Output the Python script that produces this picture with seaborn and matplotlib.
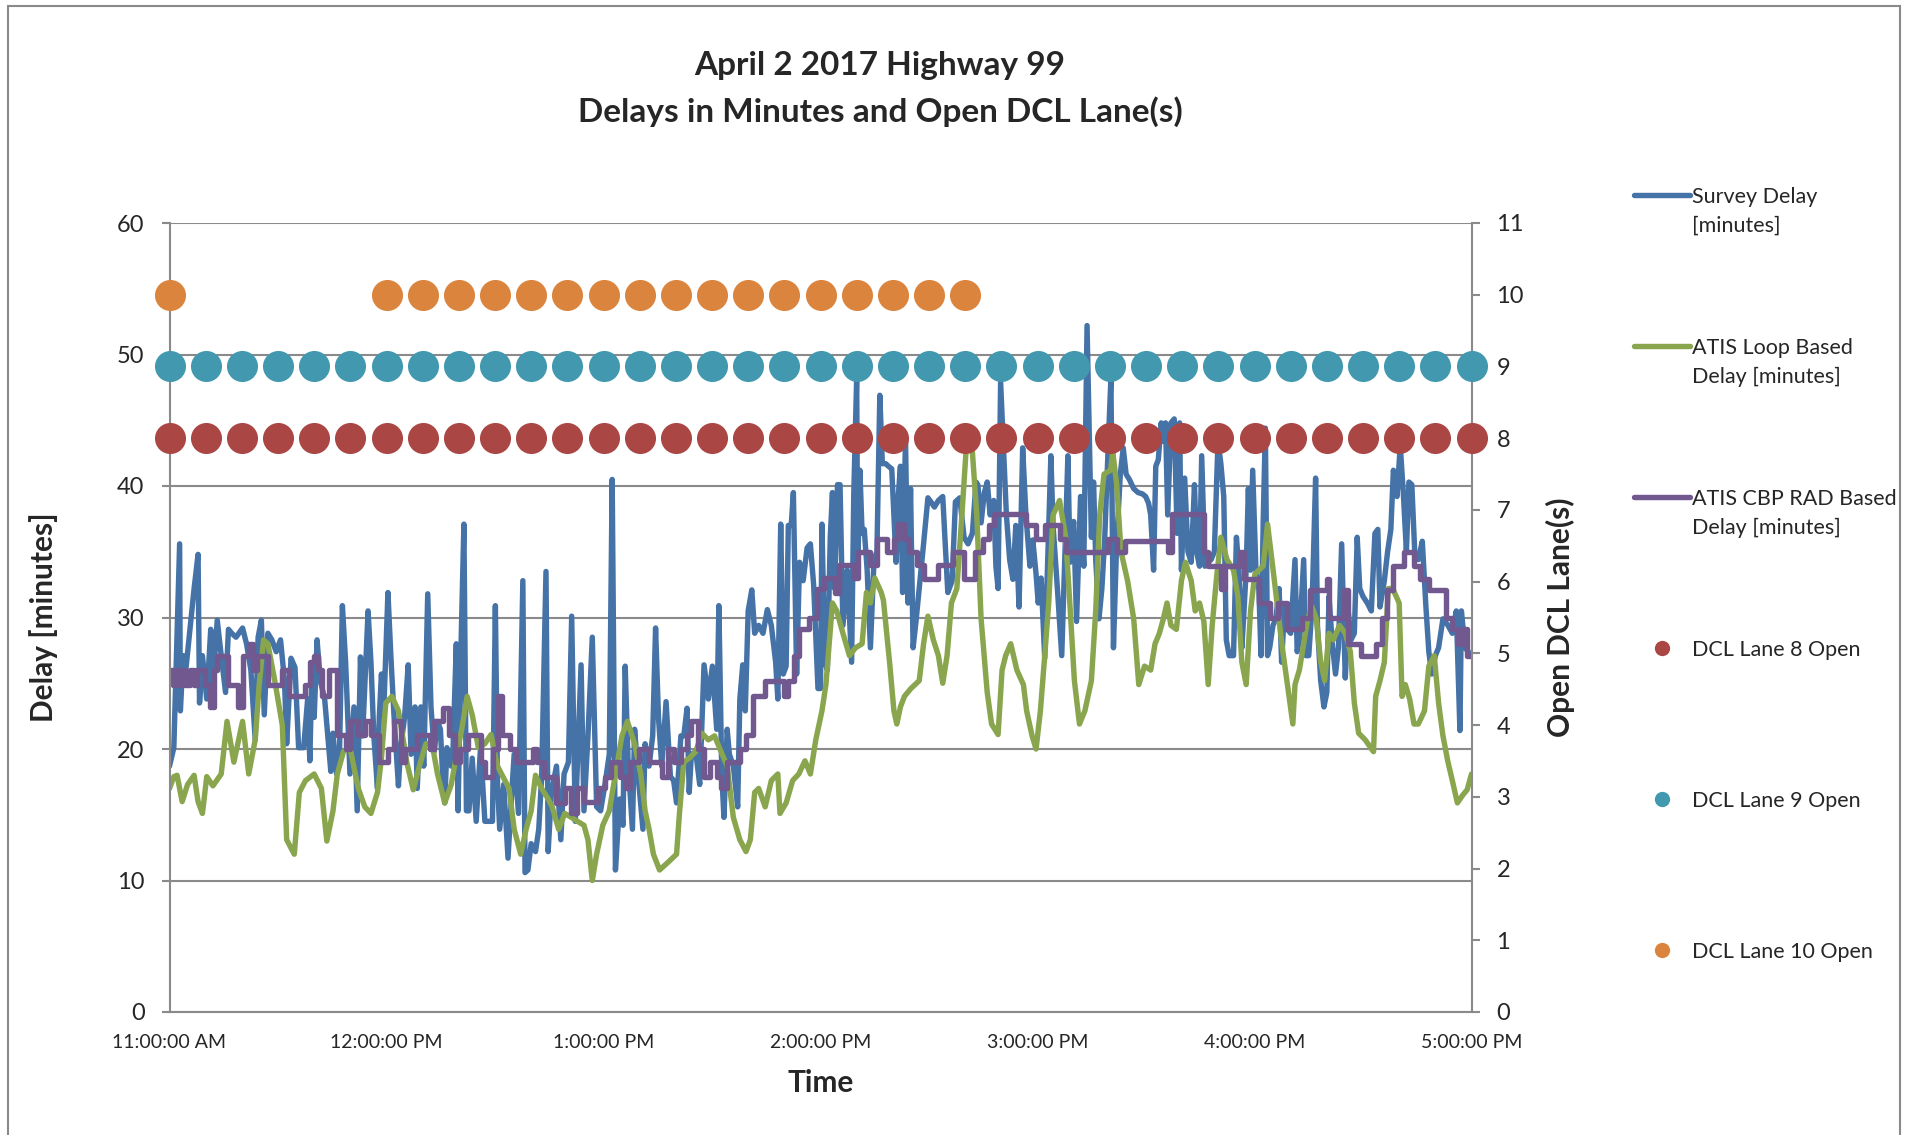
import matplotlib
matplotlib.use("Agg")
import matplotlib.pyplot as plt
import seaborn as sns
from matplotlib.lines import Line2D
from matplotlib.patches import Rectangle

# minutes after 11:00 AM and delay in minutes
survey_min = [0.0, 1.2, 2.8, 3.0, 3.8, 4.4, 6.8, 7.9, 8.3, 9.1, 10.3, 11.4, 12.0, 13.2, 14.3, 15.5, 16.3, 17.2,
              18.4, 20.2, 21.3, 22.5, 23.7, 24.5, 25.4, 26.2, 27.2, 28.3, 29.5, 30.7, 31.8, 32.4, 33.6, 34.7,
              35.7, 37.1, 38.2, 38.8, 39.4, 40.0, 40.8, 41.7, 42.9, 44.6, 45.2, 46.2, 47.0, 47.8, 48.7, 49.9,
              51.0, 51.9, 52.8, 53.4, 54.9, 55.7, 56.5, 57.5, 58.0, 58.6, 59.2, 60.4, 61.2, 62.1, 63.3, 63.9,
              65.0, 66.0, 66.8, 67.9, 68.5, 69.5, 70.3, 71.4, 72.3, 73.2, 74.1, 74.9, 75.5, 76.1, 76.7, 77.9,
              78.4, 79.3, 79.8, 80.5, 81.4, 82.1, 82.8, 83.7, 84.8, 86.0, 87.2, 88.3, 89.3, 90.1, 90.7, 91.3,
              92.4, 93.6, 94.4, 95.3, 96.5, 97.7, 98.3, 99.1, 100.0, 101.2, 102.1, 102.9, 104.1, 104.7, 105.6,
              107.0, 108.2, 109.1, 110.3, 111.2, 112.2, 112.8, 113.8, 114.6, 115.7, 116.9, 118.1, 119.2, 120.4,
              121.6, 122.4, 123.3, 124.5, 125.4, 126.0, 126.8, 128.0, 128.6, 129.7, 130.9, 131.5, 132.6, 133.6,
              134.4, 135.2, 136.1, 137.3, 138.5, 139.4, 140.2, 141.4, 142.2, 143.1, 143.7, 144.3, 145.5, 146.6,
              147.8, 149.0, 150.1, 151.3, 151.9, 152.7, 153.3, 154.2, 154.8, 155.9, 157.1, 157.7, 158.5, 159.2,
              160.0, 161.0, 161.8, 162.9, 164.1, 165.3, 166.4, 167.6, 168.2, 169.0, 169.7, 170.5, 171.1, 171.9,
              172.5, 173.4, 174.2, 175.2, 176.3, 177.2, 178.1, 179.3, 180.0, 180.4, 181.2, 181.9, 182.7, 183.3,
              183.9, 184.7, 185.4, 186.2, 187.4, 188.6, 189.2, 190.0, 190.3, 190.9, 191.5, 192.1, 192.9, 193.8,
              194.8, 195.6, 196.4, 197.1, 198.0, 198.8, 199.7, 200.3, 200.9, 201.5, 202.1, 202.7, 203.5, 204.2,
              204.9, 205.6, 206.4, 207.3, 208.5, 209.7, 210.5, 211.5, 212.6, 213.8, 214.4, 215.2, 216.4, 217.3,
              218.5, 219.7, 220.8, 222.0, 223.0, 223.5, 224.4, 225.3, 226.1, 226.9, 227.9, 228.5, 229.1, 229.8,
              230.5, 231.4, 232.3, 233.2, 234.0, 234.9, 235.9, 236.8, 237.9, 238.7, 239.6, 240.2, 241.0, 242.0,
              243.1, 243.7, 244.3, 245.5, 246.7, 247.6, 248.4, 249.0, 250.0, 250.8, 251.9, 252.8, 253.7, 254.9,
              255.5, 256.1, 257.0, 257.8, 258.6, 259.6, 260.3, 261.0, 261.9, 262.9, 263.7, 264.5, 265.4, 266.6,
              267.8, 269.0, 269.9, 270.7, 271.3, 272.1, 272.7, 273.4, 274.2, 274.8, 275.4, 276.0, 276.9, 277.8,
              278.6, 279.3, 279.8, 280.7, 281.6, 282.5, 283.4, 284.0, 284.8, 285.4, 286.3, 287.2, 288.0, 288.9,
              289.9, 290.7, 291.5, 292.2, 293.0, 294.2, 295.0, 295.7, 296.5, 297.1, 297.7, 298.3, 298.9, 299.5,
              300.4, 301.2, 301.8, 302.4, 303.0, 303.6, 304.2, 305.1, 305.9, 306.8, 307.5, 308.3, 309.1, 310.0,
              311.2, 311.8, 312.4, 313.6, 314.2, 315.0, 315.9, 316.9, 317.4, 318.3, 319.2, 320.0, 320.6, 321.5,
              322.4, 323.2, 324.1, 325.1, 325.9, 326.7, 327.6, 328.4, 329.1, 330.0, 331.2, 332.3, 333.3, 334.1,
              334.7, 335.9, 336.8, 337.7, 338.4, 339.4, 340.3, 341.2, 342.0, 342.7, 343.5, 344.3, 345.3, 346.4,
              347.4, 348.2, 349.0, 350.0, 350.9, 352.1, 353.5, 354.7, 355.8, 356.8, 357.2, 358.2, 360.0]
survey_delay = [18.7, 20.1, 35.6, 22.9, 27.1, 25.7, 32.2, 34.8, 23.5, 27.1, 23.8, 29.1, 24.9, 29.8, 27.1, 24.3,
                29.1, 28.8, 28.5, 29.2, 28.0, 26.0, 20.7, 28.5, 29.8, 22.6, 28.8, 28.3, 27.4, 28.3, 25.2, 20.4,
                26.9, 26.2, 20.1, 20.1, 23.8, 19.1, 26.4, 22.4, 28.3, 25.2, 23.8, 18.3, 21.2, 18.1, 19.6, 30.9,
                26.6, 18.1, 23.2, 15.3, 27.0, 21.0, 30.5, 26.6, 21.0, 17.0, 22.4, 25.7, 22.6, 31.9, 27.1, 22.4,
                17.2, 20.1, 22.4, 26.4, 19.6, 23.2, 17.0, 23.2, 18.7, 31.8, 23.2, 19.8, 22.1, 21.5, 18.1, 15.9,
                20.1, 18.7, 20.1, 28.0, 15.3, 26.6, 37.1, 15.3, 15.3, 19.3, 14.5, 20.1, 14.5, 14.5, 14.5, 30.9,
                17.3, 13.9, 17.3, 11.7, 15.6, 19.6, 15.1, 32.8, 10.6, 10.8, 12.8, 12.2, 13.9, 17.9, 33.5, 12.2,
                16.7, 18.7, 13.1, 18.1, 19.0, 30.1, 14.5, 19.0, 26.4, 15.3, 21.0, 28.5, 15.6, 15.3, 17.3, 19.6,
                40.5, 10.8, 16.2, 14.2, 26.3, 19.0, 13.9, 21.5, 17.6, 13.9, 20.4, 18.7, 21.0, 29.2, 22.4, 18.7,
                23.6, 17.9, 17.6, 15.9, 21.0, 21.0, 23.1, 16.7, 19.6, 19.8, 17.3, 26.4, 23.8, 26.3, 21.5, 30.9,
                18.1, 14.8, 21.5, 19.6, 18.7, 15.6, 23.8, 26.4, 22.9, 30.5, 32.1, 28.8, 29.4, 28.8, 30.6, 29.4,
                26.6, 23.8, 37.1, 25.7, 26.3, 37.0, 37.0, 39.5, 25.7, 34.2, 32.8, 35.3, 35.6, 32.5, 24.6, 24.6,
                37.1, 26.6, 26.0, 36.1, 39.5, 32.2, 40.1, 40.1, 29.4, 33.6, 26.6, 39.4, 48.2, 33.6, 41.2, 36.4,
                36.7, 33.6, 27.7, 34.4, 35.0, 46.9, 41.7, 41.7, 41.5, 41.3, 37.8, 34.2, 39.2, 41.5, 31.9, 43.7,
                31.1, 39.8, 27.7, 29.7, 32.2, 35.6, 39.1, 38.8, 38.4, 38.9, 39.2, 36.1, 31.9, 32.8, 38.8, 39.1,
                36.1, 35.6, 36.4, 40.3, 40.1, 37.2, 39.5, 40.3, 37.8, 38.9, 33.9, 32.2, 47.9, 43.4, 37.8, 34.4,
                32.9, 37.0, 30.8, 42.9, 37.8, 33.9, 35.9, 33.3, 31.1, 33.0, 26.9, 37.0, 42.3, 37.0, 32.2, 27.1,
                35.0, 42.3, 34.2, 37.3, 29.7, 39.2, 33.9, 52.2, 36.1, 40.3, 34.4, 29.9, 32.2, 36.1, 43.4, 48.2,
                27.7, 35.8, 40.9, 42.9, 40.9, 40.5, 39.8, 39.5, 39.4, 39.2, 38.7, 37.8, 33.6, 41.5, 42.0, 44.8,
                43.4, 44.8, 37.8, 44.8, 45.1, 36.4, 44.8, 33.6, 40.6, 35.0, 34.2, 40.1, 35.0, 33.9, 42.3, 33.9,
                34.2, 34.4, 35.0, 43.4, 41.7, 39.2, 28.3, 27.1, 27.1, 36.1, 33.6, 27.7, 30.5, 33.6, 39.8, 33.6,
                41.2, 33.6, 32.2, 27.1, 37.2, 44.4, 27.1, 27.7, 29.4, 29.9, 32.2, 26.6, 30.8, 29.1, 28.8, 34.4,
                27.4, 28.3, 34.4, 27.1, 27.1, 30.8, 40.6, 29.4, 25.2, 23.2, 24.3, 31.6, 28.0, 25.7, 27.7, 35.6,
                25.4, 30.5, 28.3, 28.8, 36.1, 32.2, 31.6, 31.1, 30.5, 36.4, 36.7, 30.8, 32.8, 35.0, 36.7, 41.2,
                39.2, 43.1, 39.2, 35.0, 40.3, 40.1, 35.0, 34.4, 35.8, 30.8, 27.4, 25.7, 27.1, 27.7, 29.9, 29.4,
                28.8, 30.5, 21.4, 30.5, 27.7, 27.1]

loop_min = [0.0, 1.2, 2.1, 3.5, 5.0, 6.8, 7.9, 9.1, 10.3, 12.0, 14.3, 15.9, 17.8, 20.2, 21.9, 23.7, 24.8, 26.0,
            27.2, 29.1, 31.2, 32.4, 34.5, 35.9, 37.6, 40.0, 42.0, 43.5, 45.2, 46.4, 48.1, 49.9, 52.2, 54.0,
            55.7, 57.5, 58.6, 59.8, 61.5, 63.3, 64.8, 65.6, 67.4, 69.1, 70.9, 72.6, 74.1, 76.1, 77.9, 79.0,
            80.8, 82.3, 83.7, 85.4, 87.2, 88.9, 90.7, 91.8, 93.9, 95.3, 97.1, 98.6, 100.0, 101.2, 102.9, 104.7,
            105.8, 107.6, 109.3, 111.1, 112.8, 114.6, 115.7, 116.9, 118.1, 119.8, 121.6, 123.3, 125.1, 126.6,
            128.6, 130.3, 131.5, 132.6, 133.8, 135.5, 137.9, 140.2, 141.0, 142.2, 143.7, 145.5, 147.2, 149.0,
            150.7, 152.5, 154.2, 155.9, 157.7, 159.4, 160.6, 161.8, 162.9, 164.7, 166.4, 168.2, 168.8, 170.5,
            172.3, 174.0, 175.7, 177.2, 178.7, 180.4, 181.5, 183.3, 184.5, 186.2, 188.0, 189.7, 191.5, 192.7,
            193.8, 195.0, 196.8, 197.4, 199.1, 200.3, 201.1, 202.1, 203.2, 205.0, 207.3, 208.5, 209.7, 211.2,
            212.6, 213.8, 215.0, 216.2, 217.7, 219.1, 220.3, 222.0, 223.2, 224.4, 226.1, 227.3, 229.1, 230.2,
            231.2, 232.6, 234.3, 236.1, 237.0, 238.5, 239.6, 240.8, 242.0, 243.1, 244.3, 246.1, 247.8, 249.0,
            250.2, 251.6, 253.1, 254.9, 256.1, 257.2, 258.4, 260.2, 260.8, 261.9, 263.1, 264.9, 266.6, 268.0,
            269.6, 271.3, 272.5, 273.7, 274.8, 275.8, 276.9, 278.4, 279.8, 280.9, 282.5, 283.6, 284.8, 286.0,
            287.2, 288.3, 289.5, 290.7, 292.4, 294.2, 295.4, 296.5, 297.7, 298.9, 300.1, 301.2, 302.4, 303.6,
            304.8, 306.5, 307.7, 309.1, 310.6, 311.2, 312.4, 313.6, 314.7, 315.9, 317.1, 318.3, 319.4, 320.6,
            321.8, 323.5, 325.1, 326.5, 327.6, 328.8, 330.6, 332.9, 333.5, 334.7, 335.9, 337.0, 338.2, 340.0,
            340.8, 341.7, 342.9, 344.1, 345.3, 347.0, 348.2, 349.7, 350.9, 352.1, 353.5, 354.7, 356.1, 357.6,
            358.8, 360.0]
loop_delay = [17.0, 17.9, 18.0, 16.0, 17.3, 18.0, 16.0, 15.1, 17.9, 17.2, 18.1, 22.1, 19.0, 22.1, 18.1, 20.7,
              24.9, 28.3, 28.0, 25.2, 21.8, 13.1, 12.0, 16.7, 17.6, 18.1, 17.0, 13.0, 15.3, 18.1, 19.8, 20.1,
              17.0, 15.6, 15.1, 16.7, 19.3, 23.5, 24.0, 22.9, 20.4, 19.0, 16.9, 18.7, 20.4, 20.4, 18.1, 15.9,
              17.3, 19.0, 21.5, 24.0, 22.6, 20.1, 20.4, 21.1, 18.7, 18.1, 17.0, 13.9, 12.0, 13.9, 15.3, 18.0,
              17.0, 16.2, 15.6, 13.9, 15.1, 14.8, 14.5, 14.2, 13.1, 10.0, 12.0, 14.2, 15.3, 18.1, 21.0, 22.1,
              20.4, 18.1, 15.3, 13.9, 12.0, 10.8, 11.4, 12.0, 15.1, 19.0, 19.3, 19.8, 21.2, 20.7, 21.0, 19.8,
              18.7, 14.8, 13.1, 12.2, 13.1, 16.7, 17.0, 15.6, 17.6, 18.1, 15.1, 15.9, 17.6, 18.1, 19.1, 18.1,
              20.7, 22.9, 24.9, 31.1, 30.5, 28.8, 27.1, 27.7, 28.0, 31.9, 31.1, 33.0, 31.9, 31.3, 26.6, 22.9,
              21.9, 23.2, 24.0, 24.6, 25.2, 28.0, 30.1, 28.3, 27.1, 25.0, 27.1, 31.1, 32.2, 37.8, 42.9, 42.6,
              37.8, 29.9, 24.3, 21.9, 21.1, 26.0, 27.1, 28.0, 26.0, 24.9, 22.9, 21.0, 20.0, 22.9, 27.1, 31.1,
              37.8, 38.9, 36.1, 30.8, 25.2, 21.9, 22.9, 25.2, 30.5, 37.8, 40.9, 41.2, 42.6, 40.1, 35.0, 32.8,
              29.9, 24.9, 26.3, 26.0, 28.0, 28.8, 29.9, 31.1, 29.4, 29.1, 32.8, 34.2, 32.8, 30.5, 31.1, 29.7,
              24.9, 29.4, 33.0, 36.1, 34.4, 33.6, 31.6, 26.6, 24.9, 30.5, 33.3, 33.6, 33.9, 37.1, 34.4, 30.5,
              27.7, 24.9, 21.9, 24.9, 26.0, 28.0, 29.9, 30.8, 29.9, 26.6, 25.2, 28.8, 28.3, 29.4, 28.8, 27.4,
              23.5, 21.2, 20.7, 19.8, 24.0, 25.2, 26.6, 32.2, 32.2, 31.1, 24.0, 24.9, 23.8, 21.9, 21.9, 22.9,
              26.3, 27.1, 23.5, 21.0, 19.0, 17.6, 15.9, 16.5, 16.9, 18.1]

# ATIS CBP RAD: value holds from each time until the next one
rad_min = [0.0, 0.9, 2.1, 2.7, 3.8, 4.4, 5.6, 6.8, 7.7, 9.7, 11.2, 12.4, 13.2, 16.1, 19.0, 20.2, 21.9, 23.1,
           24.2, 27.2, 31.2, 33.0, 37.6, 38.8, 40.0, 41.1, 42.3, 44.1, 46.4, 48.7, 49.9, 52.2, 54.0, 55.7,
           58.0, 60.4, 62.1, 63.9, 65.0, 68.5, 72.0, 73.2, 75.5, 77.3, 79.0, 80.2, 82.5, 86.0, 87.2, 89.5,
           90.7, 91.8, 94.2, 95.9, 100.6, 101.7, 103.5, 107.0, 109.3, 111.1, 112.8, 114.6, 118.6, 120.4, 122.1,
           124.5, 126.2, 127.4, 129.7, 132.6, 136.1, 137.9, 139.6, 141.4, 143.1, 144.3, 146.0, 147.8, 149.5,
           151.3, 152.4, 154.2, 157.7, 159.4, 161.2, 164.7, 169.9, 171.1, 172.8, 174.0, 176.9, 179.0, 180.9,
           183.9, 185.0, 189.2, 190.3, 193.8, 195.6, 198.5, 200.3, 201.5, 203.2, 204.4, 206.8, 208.5, 212.6,
           216.7, 219.7, 222.6, 225.0, 226.7, 227.9, 236.7, 239.6, 242.0, 246.1, 247.8, 259.6, 261.9, 264.3,
           276.0, 277.2, 286.0, 287.2, 290.7, 291.9, 296.0, 297.1, 301.2, 304.2, 306.5, 308.9, 313.0, 315.3,
           320.0, 320.6, 324.7, 325.9, 329.4, 333.5, 335.3, 336.5, 338.2, 341.2, 344.1, 345.8, 348.2, 352.9,
           354.6, 356.4, 357.6, 358.8, 360.0]
rad_delay = [26.0, 24.9, 26.0, 24.9, 26.0, 24.9, 26.0, 24.9, 26.0, 24.9, 23.2, 26.0, 27.1, 24.9, 23.2, 27.1,
             28.0, 26.0, 27.1, 24.9, 26.0, 24.0, 24.9, 26.6, 27.1, 26.0, 24.0, 26.0, 21.1, 20.0, 22.1, 21.1,
             22.1, 21.1, 19.0, 20.0, 22.1, 19.0, 20.0, 21.1, 20.0, 22.1, 23.1, 21.1, 19.0, 20.0, 21.1, 19.0,
             17.9, 20.0, 24.0, 21.1, 20.0, 19.0, 20.0, 19.0, 17.9, 15.9, 17.0, 15.1, 17.0, 16.0, 17.0, 17.9,
             19.0, 17.9, 17.0, 19.0, 20.0, 19.0, 17.9, 20.0, 19.0, 20.0, 21.1, 22.1, 20.0, 17.9, 19.0, 17.9,
             17.0, 19.0, 20.0, 21.1, 24.0, 25.2, 24.0, 25.2, 27.1, 29.1, 30.0, 32.2, 33.0, 31.9, 34.0, 33.0,
             35.0, 34.0, 36.0, 35.0, 36.0, 37.1, 36.0, 35.0, 34.0, 32.9, 34.0, 35.0, 32.9, 35.0, 36.0, 37.0,
             37.9, 37.0, 36.0, 37.0, 36.0, 35.0, 36.0, 35.0, 35.8, 35.0, 37.9, 35.0, 33.9, 32.2, 33.9, 35.0,
             32.9, 31.1, 30.0, 31.1, 29.1, 30.0, 32.1, 32.9, 30.0, 32.1, 28.0, 27.1, 28.0, 30.0, 32.1, 33.9,
             35.0, 33.9, 32.9, 32.1, 30.0, 29.1, 28.0, 29.1, 27.1, 27.1]

# DCL lane status every 10 minutes (right axis: lane number)
lane_min = [0, 10, 20, 30, 40, 50, 60, 70, 80, 90, 100, 110, 120, 130, 140, 150, 160, 170, 180, 190,
            200, 210, 220, 230, 240, 250, 260, 270, 280, 290, 300, 310, 320, 330, 340, 350, 360]
lane10_min = [0, 60, 70, 80, 90, 100, 110, 120, 130, 140, 150, 160, 170, 180, 190, 200, 210, 220]

hour_labels = ["11:00:00 AM", "12:00:00 PM", "1:00:00 PM", "2:00:00 PM", "3:00:00 PM", "4:00:00 PM", "5:00:00 PM"]

BLUE, GREEN, PURPLE = "#4572A7", "#89A54E", "#71588F"
RED, TEAL, ORANGE = "#AA4643", "#4198AF", "#DB843D"
GRID = "#8a8a8a"
LW = 3.9

sns.set_style("white")
plt.rcParams["font.family"] = ["Lato", "DejaVu Sans"]

W, H = 1912, 1135
fig = plt.figure(figsize=(W / 100, H / 100), dpi=100)
ax = fig.add_axes([169.5 / W, 1 - 1012 / H, 1302 / W, 789 / H])

sns.lineplot(x=survey_min, y=survey_delay, ax=ax, color=BLUE, lw=LW, estimator=None, sort=False)
sns.lineplot(x=loop_min, y=loop_delay, ax=ax, color=GREEN, lw=LW, estimator=None, sort=False)
sns.lineplot(x=rad_min, y=rad_delay, ax=ax, color=PURPLE, lw=LW, estimator=None, sort=False,
             drawstyle="steps-post")

ax.set_xlim(0, 360)
ax.set_ylim(0, 60)
ax.set_yticks(range(0, 61, 10))
ax.set_xticks(range(0, 361, 60))
ax.set_xticklabels(hour_labels)
ax.yaxis.grid(True, color=GRID, lw=1.5)
ax.set_axisbelow(True)
for s in ["left", "bottom"]:
    ax.spines[s].set_color(GRID)
    ax.spines[s].set_linewidth(1.5)
ax.spines["top"].set_visible(False)
ax.spines["right"].set_visible(False)
ax.tick_params(axis="y", direction="out", length=6, width=1.5, color=GRID, labelsize=17, pad=12)
ax.tick_params(axis="x", direction="out", length=6, width=1.5, color=GRID, labelsize=14, pad=10)
ax.set_ylabel("Delay [minutes]", fontsize=21.5, fontweight="bold")
ax.yaxis.set_label_coords(-0.086, 0.5)
ax.set_xlabel("Time", fontsize=21.5, fontweight="bold")
ax.xaxis.set_label_coords(0.5, -0.072)

ax2 = ax.twinx()
sns.scatterplot(x=lane_min, y=[8] * len(lane_min), ax=ax2, color=RED, s=500, linewidth=0, clip_on=False, zorder=5)
sns.scatterplot(x=lane_min, y=[9] * len(lane_min), ax=ax2, color=TEAL, s=500, linewidth=0, clip_on=False, zorder=5)
sns.scatterplot(x=lane10_min, y=[10] * len(lane10_min), ax=ax2, color=ORANGE, s=500, linewidth=0, clip_on=False,
                zorder=5)
ax2.set_ylim(0, 11)
ax2.set_yticks(range(0, 12))
ax2.set_xlim(0, 360)
for s in ["left", "top", "bottom"]:
    ax2.spines[s].set_visible(False)
ax2.spines["right"].set_color(GRID)
ax2.spines["right"].set_linewidth(1.5)
ax2.tick_params(axis="y", direction="out", length=6, width=1.5, color=GRID, labelsize=17, pad=12)
ax2.set_ylabel("Open DCL Lane(s)", fontsize=21.5, fontweight="bold")
ax2.yaxis.set_label_coords(1.057, 0.5)

fig.text(880 / W, 1 - 89 / H, "April 2 2017 Highway 99\nDelays in Minutes and Open DCL Lane(s)",
         ha="center", va="center", fontsize=24, fontweight="bold", linespacing=1.6)

# legend on the right, one entry every ~151 px
entries = [("line", BLUE, "Survey Delay\n[minutes]"),
           ("line", GREEN, "ATIS Loop Based\nDelay [minutes]"),
           ("line", PURPLE, "ATIS CBP RAD Based\nDelay [minutes]"),
           ("dot", RED, "DCL Lane 8 Open"),
           ("dot", TEAL, "DCL Lane 9 Open"),
           ("dot", ORANGE, "DCL Lane 10 Open")]
for i, (kind, col, lab) in enumerate(entries):
    yk = 1 - (195 + i * 151) / H
    if kind == "line":
        fig.add_artist(Line2D([1634 / W, 1690 / W], [yk, yk], color=col, lw=LW,
                              solid_capstyle="round", transform=fig.transFigure))
    else:
        fig.add_artist(Line2D([1662 / W], [yk], marker="o", markersize=11, color=col, lw=0,
                              markeredgewidth=0, transform=fig.transFigure))
    fig.text(1692 / W, yk + 8 / H, lab, ha="left", va="top", fontsize=15.5, linespacing=1.55)

fig.add_artist(Rectangle((8 / W, -0.05), (1900 - 8) / W, 1.05 - 6 / H, transform=fig.transFigure,
                         fill=False, edgecolor="#8a8a8a", lw=1.5))

fig.savefig("out.png", dpi=100)
